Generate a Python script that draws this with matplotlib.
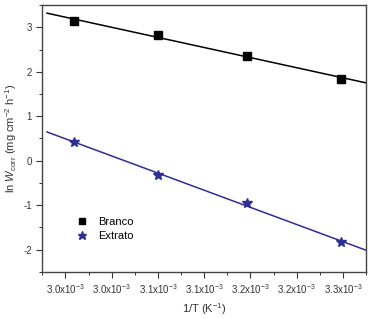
import numpy as np
import matplotlib.pyplot as plt
from matplotlib.ticker import MultipleLocator

plt.rcParams['font.family'] = ['Liberation Sans', 'DejaVu Sans']
plt.rcParams['mathtext.fontset'] = 'custom'
plt.rcParams['mathtext.rm'] = 'Liberation Sans'
plt.rcParams['mathtext.it'] = 'Liberation Sans:italic'
plt.rcParams['axes.unicode_minus'] = False

# 1/T values (K^-1) and ln W_corr
inv_t = np.array([3.009e-3, 3.100e-3, 3.196e-3, 3.298e-3])
branco = np.array([3.14, 2.83, 2.36, 1.84])
extrato = np.array([0.425, -0.32, -0.95, -1.84])

x_ticks = [3.00e-3, 3.05e-3, 3.10e-3, 3.15e-3, 3.20e-3, 3.25e-3, 3.30e-3]
x_tick_mant = ['3.0', '3.0', '3.1', '3.1', '3.2', '3.2', '3.3']
y_ticks = [-2, -1, 0, 1, 2, 3]

blue = '#2e2e96'

fig = plt.figure(figsize=(3.73, 3.19), dpi=100)
ax = fig.add_axes([0.1135, 0.148, 0.868, 0.836])

xfit = np.array([2.98e-3, 3.325e-3])
for y, col, mk, ms, lab in [(branco, 'black', 's', 5.5, 'Branco'),
                            (extrato, blue, '*', 7.5, 'Extrato')]:
    p = np.polyfit(inv_t, y, 1)
    ax.plot(xfit, np.polyval(p, xfit), color=col, lw=1.1)
    ax.plot(inv_t, y, mk, color=col, ms=ms, label=lab, ls='none')

ax.set_xlim(2.975e-3, 3.325e-3)
ax.set_ylim(-2.5, 3.5)
ax.set_xticks(x_ticks)
ax.set_xticklabels([m + r'x10$^{-3}$' for m in x_tick_mant])
ax.set_yticks(y_ticks)
ax.xaxis.set_minor_locator(MultipleLocator(0.025e-3))
ax.yaxis.set_minor_locator(MultipleLocator(0.5))
ax.tick_params(which='major', direction='out', length=4, width=0.8,
               labelsize=7, colors='#333333', top=False, right=False)
ax.tick_params(which='minor', direction='out', length=2.5, width=0.7,
               colors='#333333', top=False, right=False)
for s in ax.spines.values():
    s.set_color('#444444')
    s.set_linewidth(1.0)

ax.set_xlabel(r'1/T (K$^{-1}$)', fontsize=8, color='#333333', labelpad=4)
ax.set_ylabel(r'ln $\it{W}$$_{\rm corr}$ (mg cm$^{-2}$ h$^{-1}$)',
              fontsize=8, color='#333333', labelpad=3)

ax.legend(loc='lower left', bbox_to_anchor=(0.08, 0.095), frameon=False,
          fontsize=8, handletextpad=0.7, labelspacing=0.35, borderpad=0,
          handlelength=1.5, markerscale=0.85)

fig.savefig('out.png', dpi=100)
